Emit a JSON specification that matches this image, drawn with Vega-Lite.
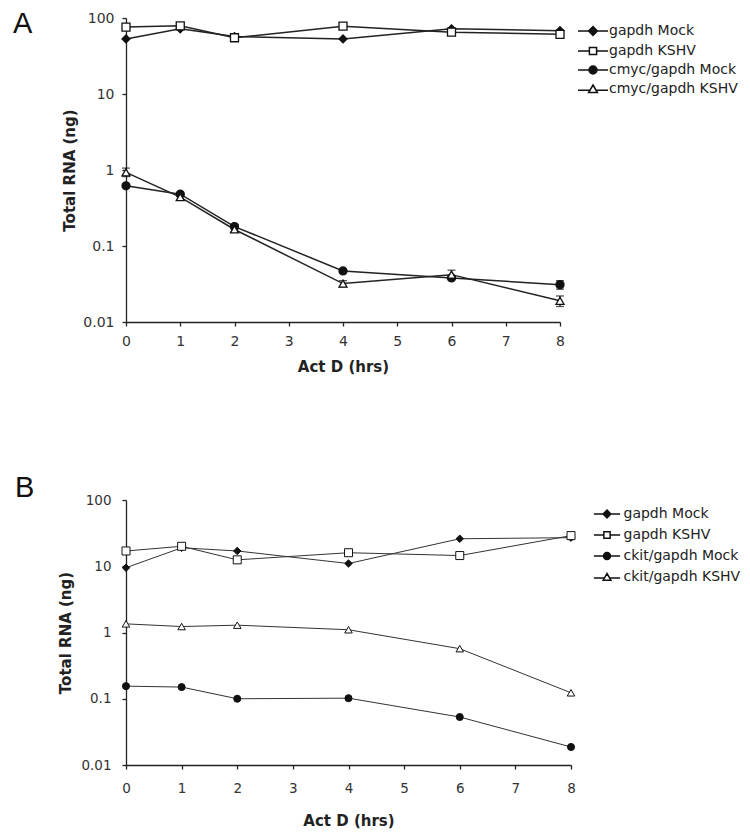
{
  "$schema": "https://vega.github.io/schema/vega-lite/v6.json",
  "padding": {"left": 13, "top": 10, "right": 5, "bottom": 5},
  "background": "white",
  "datasets": {
    "a": [
      {"t": 0, "v": 53, "series": "gapdh Mock"},
      {"t": 1, "v": 72, "series": "gapdh Mock"},
      {"t": 2, "v": 57, "series": "gapdh Mock"},
      {"t": 4, "v": 53, "series": "gapdh Mock"},
      {"t": 6, "v": 72, "series": "gapdh Mock"},
      {"t": 8, "v": 68, "series": "gapdh Mock"},
      {"t": 0, "v": 76, "series": "gapdh KSHV"},
      {"t": 1, "v": 79, "series": "gapdh KSHV"},
      {"t": 2, "v": 55, "series": "gapdh KSHV"},
      {"t": 4, "v": 78, "series": "gapdh KSHV"},
      {"t": 6, "v": 65, "series": "gapdh KSHV"},
      {"t": 8, "v": 61, "series": "gapdh KSHV"},
      {"t": 0, "v": 0.62, "lo": 0.6, "hi": 0.64, "series": "cmyc/gapdh Mock"},
      {"t": 1, "v": 0.48, "lo": 0.45, "hi": 0.51, "series": "cmyc/gapdh Mock"},
      {"t": 2, "v": 0.18, "lo": 0.168, "hi": 0.192, "series": "cmyc/gapdh Mock"},
      {"t": 4, "v": 0.047, "lo": 0.045, "hi": 0.049, "series": "cmyc/gapdh Mock"},
      {"t": 6, "v": 0.038, "lo": 0.036, "hi": 0.04, "series": "cmyc/gapdh Mock"},
      {"t": 8, "v": 0.031, "lo": 0.027, "hi": 0.035, "series": "cmyc/gapdh Mock"},
      {"t": 0, "v": 0.93, "lo": 0.82, "hi": 1.06, "series": "cmyc/gapdh KSHV"},
      {"t": 1, "v": 0.44, "lo": 0.4, "hi": 0.48, "series": "cmyc/gapdh KSHV"},
      {"t": 2, "v": 0.165, "lo": 0.153, "hi": 0.178, "series": "cmyc/gapdh KSHV"},
      {"t": 4, "v": 0.032, "lo": 0.029, "hi": 0.035, "series": "cmyc/gapdh KSHV"},
      {"t": 6, "v": 0.042, "lo": 0.037, "hi": 0.048, "series": "cmyc/gapdh KSHV"},
      {"t": 8, "v": 0.019, "lo": 0.016, "hi": 0.022, "series": "cmyc/gapdh KSHV"}
    ],
    "b": [
      {"t": 0, "v": 9.5, "series": "gapdh Mock"},
      {"t": 1, "v": 19, "series": "gapdh Mock"},
      {"t": 2, "v": 17, "series": "gapdh Mock"},
      {"t": 4, "v": 11, "series": "gapdh Mock"},
      {"t": 6, "v": 26, "series": "gapdh Mock"},
      {"t": 8, "v": 27, "series": "gapdh Mock"},
      {"t": 0, "v": 17, "series": "gapdh KSHV"},
      {"t": 1, "v": 20, "series": "gapdh KSHV"},
      {"t": 2, "v": 12.5, "series": "gapdh KSHV"},
      {"t": 4, "v": 16, "series": "gapdh KSHV"},
      {"t": 6, "v": 14.5, "series": "gapdh KSHV"},
      {"t": 8, "v": 29, "series": "gapdh KSHV"},
      {"t": 0, "v": 0.155, "series": "ckit/gapdh Mock"},
      {"t": 1, "v": 0.15, "series": "ckit/gapdh Mock"},
      {"t": 2, "v": 0.1, "series": "ckit/gapdh Mock"},
      {"t": 4, "v": 0.102, "series": "ckit/gapdh Mock"},
      {"t": 6, "v": 0.053, "series": "ckit/gapdh Mock"},
      {"t": 8, "v": 0.0187, "series": "ckit/gapdh Mock"},
      {"t": 0, "v": 1.35, "series": "ckit/gapdh KSHV"},
      {"t": 1, "v": 1.23, "series": "ckit/gapdh KSHV"},
      {"t": 2, "v": 1.29, "series": "ckit/gapdh KSHV"},
      {"t": 4, "v": 1.1, "series": "ckit/gapdh KSHV"},
      {"t": 6, "v": 0.57, "series": "ckit/gapdh KSHV"},
      {"t": 8, "v": 0.123, "series": "ckit/gapdh KSHV"}
    ]
  },
  "spacing": 100,
  "resolve": {
    "scale": {"shape": "independent", "fill": "independent", "x": "independent", "y": "independent"},
    "legend": {"shape": "independent", "fill": "independent"}
  },
  "vconcat": [
    {
      "title": {"text": "A", "anchor": "start", "frame": "group", "dx": -113, "offset": -51, "fontSize": 29, "fontWeight": "normal", "font": "Liberation Sans", "color": "#111", "baseline": "alphabetic", "align": "left"},
      "width": 434,
      "height": 304,
      "data": {"name": "a"},
      "encoding": {
        "x": {"field": "t", "type": "quantitative", "scale": {"domain": [0, 8], "nice": false, "zero": false},
          "axis": {"title": "Act D (hrs)", "values": [0, 1, 2, 3, 4, 5, 6, 7, 8], "format": "d", "labelFontSize": 14, "tickSize": 4, "labelPadding": 8, "titleFontSize": 15, "titleFontWeight": "bold", "titlePadding": 11, "labelFlush": false}},
        "y": {"field": "v", "type": "quantitative", "title": "Total RNA (ng)", "scale": {"type": "log", "domain": [0.01, 100], "nice": false},
          "axis": {"values": [0.01, 0.1, 1, 10, 100], "format": "~g", "labelFontSize": 14, "tickSize": 4, "labelPadding": 8, "titleFontSize": 15, "titleFontWeight": "bold", "titlePadding": 5, "labelFlush": false, "labelOverlap": false}}
      },
      "layer": [
        {
          "mark": {"type": "line", "color": "#222", "strokeWidth": 1.5},
          "encoding": {"detail": {"field": "series", "type": "nominal"}}
        },
        {
          "transform": [{"filter": "isValid(datum.lo)"}],
          "mark": {"type": "rule", "color": "#111", "strokeWidth": 1.3},
          "encoding": {
            "y": {"field": "lo", "type": "quantitative", "title": "Total RNA (ng)"},
            "y2": {"field": "hi"}
          }
        },
        {
          "transform": [{"filter": "isValid(datum.lo)"}],
          "mark": {"type": "tick", "orient": "horizontal", "size": 8, "thickness": 1.3, "color": "#111"},
          "encoding": {"y": {"field": "lo", "type": "quantitative", "title": "Total RNA (ng)"}}
        },
        {
          "transform": [{"filter": "isValid(datum.lo)"}],
          "mark": {"type": "tick", "orient": "horizontal", "size": 8, "thickness": 1.3, "color": "#111"},
          "encoding": {"y": {"field": "hi", "type": "quantitative", "title": "Total RNA (ng)"}}
        },
        {
          "transform": [{"filter": "datum.t < 0"}],
          "mark": {"type": "point", "filled": true, "stroke": "#111", "strokeWidth": 1.3, "size": 64, "opacity": 1},
          "encoding": {
            "shape": {"field": "series", "type": "nominal",
              "scale": {"domain": ["gapdh Mock", "gapdh KSHV", "cmyc/gapdh Mock", "cmyc/gapdh KSHV"],
                "range": ["M-3.75,0H3.75M0,-1.1L1.1,0L0,1.1L-1.1,0Z", "M-3.75,0H-0.9M0.9,0H3.75M-0.9,-0.9H0.9V0.9H-0.9Z", "M-3.75,0H3.75M-1,0A1,1,0,1,0,1,0A1,1,0,1,0,-1,0Z", "M-3.75,0.3H-0.8M0.8,0.3H3.75M0,-1L1.1,0.9H-1.1Z"]},
              "legend": {"title": null, "orient": "none", "legendX": 460, "legendY": 6, "padding": 0, "symbolSize": 64, "labelOffset": 9, "labelFontSize": 14, "labelFont": "DejaVu Sans", "labelColor": "#222", "rowPadding": 5,
                "encode": {"symbols": {
                  "stroke": {"value": "#111"},
                  "strokeWidth": {"value": 1.5},
                  "opacity": {"value": 1}
                }}}
            },
            "fill": {"field": "series", "type": "nominal",
              "scale": {"domain": ["gapdh Mock", "gapdh KSHV", "cmyc/gapdh Mock", "cmyc/gapdh KSHV"], "range": ["#111", "white", "#111", "white"]},
              "legend": null}
          }
        },
        {
          "transform": [{"filter": "datum.series === 'gapdh Mock'"}],
          "mark": {"type": "point", "shape": "diamond", "filled": true, "fill": "#111", "stroke": "#111", "strokeWidth": 1.3, "size": 64, "opacity": 1}
        },
        {
          "transform": [{"filter": "datum.series === 'gapdh KSHV'"}],
          "mark": {"type": "point", "shape": "square", "filled": true, "fill": "white", "stroke": "#111", "strokeWidth": 1.3, "size": 64, "opacity": 1}
        },
        {
          "transform": [{"filter": "datum.series === 'cmyc/gapdh Mock'"}],
          "mark": {"type": "point", "shape": "circle", "filled": true, "fill": "#111", "stroke": "#111", "strokeWidth": 1.3, "size": 64, "opacity": 1}
        },
        {
          "transform": [{"filter": "datum.series === 'cmyc/gapdh KSHV'"}],
          "mark": {"type": "point", "shape": "triangle-up", "filled": true, "fill": "white", "stroke": "#111", "strokeWidth": 1.3, "size": 64, "opacity": 1}
        }
      ]
    },
    {
      "title": {"text": "B", "anchor": "start", "frame": "group", "dx": -111, "offset": -33, "fontSize": 29, "fontWeight": "normal", "font": "Liberation Sans", "color": "#111", "baseline": "alphabetic", "align": "left"},
      "width": 445,
      "height": 265,
      "data": {"name": "b"},
      "encoding": {
        "x": {"field": "t", "type": "quantitative", "scale": {"domain": [0, 8], "nice": false, "zero": false},
          "axis": {"title": "Act D (hrs)", "values": [0, 1, 2, 3, 4, 5, 6, 7, 8], "format": "d", "labelFontSize": 13.5, "tickSize": 4, "labelPadding": 12, "titleFontSize": 15, "titleFontWeight": "bold", "titlePadding": 19, "labelFlush": false}},
        "y": {"field": "v", "type": "quantitative", "title": "Total RNA (ng)", "scale": {"type": "log", "domain": [0.01, 100], "nice": false},
          "axis": {"values": [0.01, 0.1, 1, 10, 100], "format": "~g", "labelFontSize": 13.5, "tickSize": 4, "labelPadding": 11, "titleFontSize": 15, "titleFontWeight": "bold", "titlePadding": 7, "labelFlush": false, "labelOverlap": false}}
      },
      "layer": [
        {
          "mark": {"type": "line", "color": "#333", "strokeWidth": 1},
          "encoding": {"detail": {"field": "series", "type": "nominal"}}
        },
        {
          "transform": [{"filter": "datum.t < 0"}],
          "mark": {"type": "point", "filled": true, "stroke": "#111", "strokeWidth": 1, "size": 49, "opacity": 1},
          "encoding": {
            "shape": {"field": "series", "type": "nominal",
              "scale": {"domain": ["gapdh Mock", "gapdh KSHV", "ckit/gapdh Mock", "ckit/gapdh KSHV"],
                "range": ["M-3.75,0H3.75M0,-1.1L1.1,0L0,1.1L-1.1,0Z", "M-3.75,0H-0.9M0.9,0H3.75M-0.9,-0.9H0.9V0.9H-0.9Z", "M-3.75,0H3.75M-1,0A1,1,0,1,0,1,0A1,1,0,1,0,-1,0Z", "M-3.75,0.3H-0.8M0.8,0.3H3.75M0,-1L1.1,0.9H-1.1Z"]},
              "legend": {"title": null, "orient": "none", "legendX": 474, "legendY": 7, "padding": 0, "symbolSize": 49, "labelOffset": 9.5, "labelFontSize": 14, "labelFont": "DejaVu Sans", "labelColor": "#222", "rowPadding": 7,
                "encode": {"symbols": {
                  "stroke": {"value": "#111"},
                  "strokeWidth": {"value": 1},
                  "opacity": {"value": 1}
                }}}
            },
            "fill": {"field": "series", "type": "nominal",
              "scale": {"domain": ["gapdh Mock", "gapdh KSHV", "ckit/gapdh Mock", "ckit/gapdh KSHV"], "range": ["#111", "white", "#111", "white"]},
              "legend": null}
          }
        },
        {
          "transform": [{"filter": "datum.series === 'gapdh Mock'"}],
          "mark": {"type": "point", "shape": "diamond", "filled": true, "fill": "#111", "stroke": "#111", "strokeWidth": 1, "size": 56, "opacity": 1}
        },
        {
          "transform": [{"filter": "datum.series === 'gapdh KSHV'"}],
          "mark": {"type": "point", "shape": "square", "filled": true, "fill": "white", "stroke": "#111", "strokeWidth": 1, "size": 64, "opacity": 1}
        },
        {
          "transform": [{"filter": "datum.series === 'ckit/gapdh Mock'"}],
          "mark": {"type": "point", "shape": "circle", "filled": true, "fill": "#111", "stroke": "#111", "strokeWidth": 1, "size": 50, "opacity": 1}
        },
        {
          "transform": [{"filter": "datum.series === 'ckit/gapdh KSHV'"}],
          "mark": {"type": "point", "shape": "triangle-up", "filled": true, "fill": "white", "stroke": "#111", "strokeWidth": 1, "size": 56, "opacity": 1}
        }
      ]
    }
  ],
  "config": {
    "font": "DejaVu Sans",
    "view": {"stroke": null},
    "axis": {"labelFont": "DejaVu Sans", "titleFont": "DejaVu Sans", "grid": false, "domainColor": "#222", "tickColor": "#222", "labelColor": "#333", "titleColor": "#222", "domainWidth": 1.3, "tickWidth": 1.3}
  }
}
